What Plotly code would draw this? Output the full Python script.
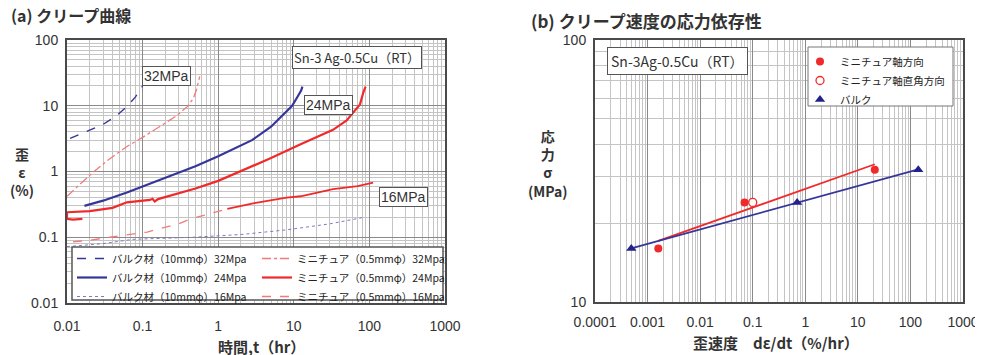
import numpy as np
import plotly.graph_objects as go

# ---------------- data: panel (a) creep curves ----------------
bulk32_t = [0.011, 0.015, 0.02, 0.03, 0.045, 0.062, 0.08, 0.1]
bulk32_e = [3.2, 3.7, 4.2, 5.2, 7.0, 9.7, 13.5, 20]

mini32_t = [0.01, 0.015, 0.022, 0.035, 0.062, 0.1, 0.17, 0.28, 0.39, 0.47, 0.52, 0.57]
mini32_e = [0.42, 0.65, 0.97, 1.5, 2.4, 3.3, 4.8, 7.0, 9.7, 13, 18, 28]

bulk24_t = [0.017, 0.03, 0.062, 0.15, 0.5, 1.0, 2.8, 5.0, 7.2, 9.5, 11.2, 12.5, 13]
bulk24_e = [0.30, 0.36, 0.48, 0.70, 1.2, 1.7, 3.0, 4.8, 7.3, 10, 13.7, 17, 19.5]

mini24_t = [0.016, 0.012, 0.01, 0.01, 0.02, 0.04, 0.062, 0.1, 0.125, 0.135, 0.145, 0.16,
            0.25, 0.5, 1.0, 2.65, 5, 12.3, 33, 50, 61, 75, 83, 89]
mini24_e = [0.19, 0.185, 0.19, 0.24, 0.25, 0.28, 0.34, 0.36, 0.37, 0.385, 0.35, 0.38,
            0.44, 0.55, 0.72, 1.15, 1.6, 2.6, 4.3, 6.0, 7.8, 10.5, 15.8, 19.5]

bulk16_t = [0.01, 0.03, 0.075, 0.2, 0.47, 2, 8.2, 30, 83]
bulk16_e = [0.072, 0.08, 0.093, 0.097, 0.1, 0.11, 0.13, 0.16, 0.2]

mini16_t = [0.012, 0.02, 0.037, 0.115, 0.3, 0.43, 1.32, 3, 8, 12.3, 33, 70, 112]
mini16_e = [0.085, 0.09, 0.1, 0.12, 0.16, 0.19, 0.27, 0.33, 0.4, 0.42, 0.54, 0.6, 0.68]

# ---------------- data: panel (b) stress dependence ----------------
mini_axial_rate = [0.0016, 0.07, 21]
mini_axial_stress = [16, 24, 32]
mini_perp_rate = [0.1]
mini_perp_stress = [24]
bulk_rate = [0.00049, 0.7, 141]
bulk_stress = [16, 24, 32]

a_ticks = [0.01, 0.1, 1, 10, 100, 1000]
a_ticktext = ["0.01", "0.1", "1", "10", "100", "1000"]
a_yticks = [0.01, 0.1, 1, 10, 100]
a_yticktext = ["0.01", "0.1", "1", "10", "100"]
b_ticks = [0.0001, 0.001, 0.01, 0.1, 1, 10, 100, 1000]
b_ticktext = ["0.0001", "0.001", "0.01", "0.1", "1", "10", "100", "1000"]
b_yticks = [10, 100]
b_yticktext = ["10", "100"]

# page body has an 8px margin: size the figure so it ends at the window edge
OFF = 8
W, H = 983 - OFF, 355 - OFF
BLUE = "#36369a"
RED = "#f02a2a"
PINK = "#f27a7a"
JP = "Noto Sans CJK JP"
LAT = "Liberation Sans"


def px(x):
    return (x - OFF) / W


def py(y):
    return 1 - (y - OFF) / H


fig = go.Figure()

# panel (a)
fig.add_trace(go.Scatter(x=bulk32_t, y=bulk32_e, mode="lines", xaxis="x", yaxis="y",
                         line=dict(color=BLUE, width=1.4, dash="dash"),
                         name="バルク材（10mmφ）32Mpa", legend="legend"))
fig.add_trace(go.Scatter(x=bulk24_t, y=bulk24_e, mode="lines", xaxis="x", yaxis="y",
                         line=dict(color=BLUE, width=2.2),
                         name="バルク材（10mmφ）24Mpa", legend="legend"))
fig.add_trace(go.Scatter(x=bulk16_t, y=bulk16_e, mode="lines", xaxis="x", yaxis="y",
                         line=dict(color="#7a7ac0", width=1.0, dash="dot"),
                         name="バルク材（10mmφ）16Mpa", legend="legend"))
fig.add_trace(go.Scatter(x=mini32_t, y=mini32_e, mode="lines", xaxis="x", yaxis="y",
                         line=dict(color=PINK, width=1.3, dash="dashdot"),
                         name="ミニチュア（0.5mmφ）32Mpa", legend="legend2"))
fig.add_trace(go.Scatter(x=mini24_t, y=mini24_e, mode="lines", xaxis="x", yaxis="y",
                         line=dict(color=RED, width=2.2),
                         name="ミニチュア（0.5mmφ）24Mpa", legend="legend2"))
fig.add_trace(go.Scatter(x=mini16_t[:7], y=mini16_e[:7], mode="lines", xaxis="x", yaxis="y",
                         line=dict(color=PINK, width=1.3, dash="dash"),
                         name="ミニチュア（0.5mmφ）16Mpa", legend="legend2"))
fig.add_trace(go.Scatter(x=mini16_t[6:], y=mini16_e[6:], mode="lines", xaxis="x", yaxis="y",
                         line=dict(color=RED, width=1.8), showlegend=False))

# panel (b): fitted lines (log-log least squares)
def fit_line(rates, stresses):
    lx = np.log10(rates)
    ly = np.log10(stresses)
    k, b = np.polyfit(lx, ly, 1)
    xs = np.array([min(lx), max(lx)])
    return (10 ** xs).tolist(), (10 ** (k * xs + b)).tolist()

rx, ry = fit_line(mini_axial_rate + mini_perp_rate, mini_axial_stress + mini_perp_stress)
bx, by = fit_line(bulk_rate, bulk_stress)
fig.add_trace(go.Scatter(x=rx, y=ry, mode="lines", xaxis="x2", yaxis="y2",
                         line=dict(color=RED, width=1.8), showlegend=False))
fig.add_trace(go.Scatter(x=bx, y=by, mode="lines", xaxis="x2", yaxis="y2",
                         line=dict(color=BLUE, width=1.8), showlegend=False))
fig.add_trace(go.Scatter(x=mini_axial_rate, y=mini_axial_stress, mode="markers",
                         xaxis="x2", yaxis="y2",
                         marker=dict(color=RED, size=8, symbol="circle"),
                         name="ミニチュア軸方向", legend="legend3"))
fig.add_trace(go.Scatter(x=mini_perp_rate, y=mini_perp_stress, mode="markers",
                         xaxis="x2", yaxis="y2",
                         marker=dict(color="white", size=8, symbol="circle",
                                     line=dict(color=RED, width=1.3)),
                         name="ミニチュア軸直角方向", legend="legend3"))
fig.add_trace(go.Scatter(x=bulk_rate, y=bulk_stress, mode="markers",
                         xaxis="x2", yaxis="y2",
                         marker=dict(color="#22228a", size=9, symbol="triangle-up"),
                         name="バルク", legend="legend3"))


def minor_vals(lo, hi):
    return [m * 10.0 ** e for e in range(lo, hi) for m in range(2, 10)]


def axis(domain, anchor, tickvals, ticktext, rng, minor, standoff=4):
    return dict(type="log", domain=domain, anchor=anchor, range=rng, automargin=False,
                tickmode="array", tickvals=tickvals, ticktext=ticktext,
                showgrid=True, gridcolor="#8a8a8a", gridwidth=1,
                showline=True, mirror=True, linecolor="#4a4a4a", linewidth=2,
                ticks="", zeroline=False, ticklabelstandoff=standoff,
                tickfont=dict(family=LAT, size=14, color="#333"),
                minor=dict(tickmode="array", tickvals=minor, showgrid=True,
                           gridcolor="#c4c4c4", gridwidth=0.7, ticks=""))


fig.update_layout(
    width=W, height=H, margin=dict(l=0, r=0, t=0, b=0, autoexpand=False),
    paper_bgcolor="white", plot_bgcolor="white", showlegend=True,
    xaxis=axis([px(67), px(445)], "y", a_ticks, a_ticktext, [-2, 3], minor_vals(-2, 3), 9),
    yaxis=axis([py(303), py(40)], "x", a_yticks, a_yticktext, [-2, 2], minor_vals(-2, 2), 4),
    xaxis2=axis([px(595), px(963)], "y2", b_ticks, b_ticktext, [-4, 3], minor_vals(-4, 3), 6),
    yaxis2=axis([py(302), py(40)], "x2", b_yticks, b_yticktext, [1, 2], minor_vals(1, 2), 4),
    legend=dict(x=px(72), y=py(244), xanchor="left", yanchor="top",
                bgcolor="rgba(0,0,0,0)", font=dict(family=JP, size=10.5, color="#222"),
                tracegroupgap=0, itemwidth=30),
    legend2=dict(x=px(257), y=py(244), xanchor="left", yanchor="top",
                 bgcolor="rgba(0,0,0,0)", font=dict(family=JP, size=10.5, color="#222"),
                 tracegroupgap=0, itemwidth=30),
    legend3=dict(x=px(800), y=py(47), xanchor="left", yanchor="top",
                 bgcolor="rgba(0,0,0,0)", font=dict(family=JP, size=10.5, color="#222"),
                 tracegroupgap=0, itemwidth=30),
)

shapes = [
    dict(type="rect", xref="paper", yref="paper", x0=px(72), x1=px(443), y0=py(300), y1=py(247),
         fillcolor="white", line=dict(color="#555", width=1.5), layer="above"),
    dict(type="rect", xref="paper", yref="paper", x0=px(808), x1=px(953), y0=py(106), y1=py(47),
         fillcolor="white", line=dict(color="#777", width=1), layer="above"),
]
fig.update_layout(shapes=shapes)


def boxed(text, x, y, size=14, font=LAT, pad=1):
    return dict(text=text, x=px(x), y=py(y), xref="paper", yref="paper", showarrow=False,
                xanchor="center", yanchor="middle",
                font=dict(family=font, size=size, color="#333"),
                bgcolor="white", bordercolor="#555", borderwidth=1, borderpad=pad)


def plain(text, x, y, size=14, xanchor="center", font=JP, bold=False):
    t = f"<b>{text}</b>" if bold else text
    return dict(text=t, x=px(x), y=py(y), xref="paper", yref="paper", showarrow=False,
                xanchor=xanchor, yanchor="middle",
                font=dict(family=font, size=size, color="#333"))


annotations = [
    boxed("32MPa", 166, 76),
    boxed("24MPa", 328, 105),
    boxed("16MPa", 403, 197),
    boxed("Sn-3 Ag-0.5Cu（RT）", 357, 57, size=13, font=JP),
    boxed("Sn-3Ag-0.5Cu（RT）", 677, 61, size=14, font=JP, pad=3),
    plain("(a) クリープ曲線", 9, 15, size=16, xanchor="left", bold=True),
    plain("(b) クリープ速度の応力依存性", 529, 20, size=17, xanchor="left", bold=True),
    plain("歪<br>ε<br>(%)", 22, 172, size=14, bold=True),
    plain("応<br>力<br>σ<br>(MPa)", 548, 163, size=14, bold=True),
    plain("時間,t（hr）", 261, 346, size=15, bold=True),
    plain("歪速度　dε/dt（%/hr）", 776, 342, size=15, bold=True),
]
fig.update_layout(annotations=annotations)

fig.write_html("out.html")
